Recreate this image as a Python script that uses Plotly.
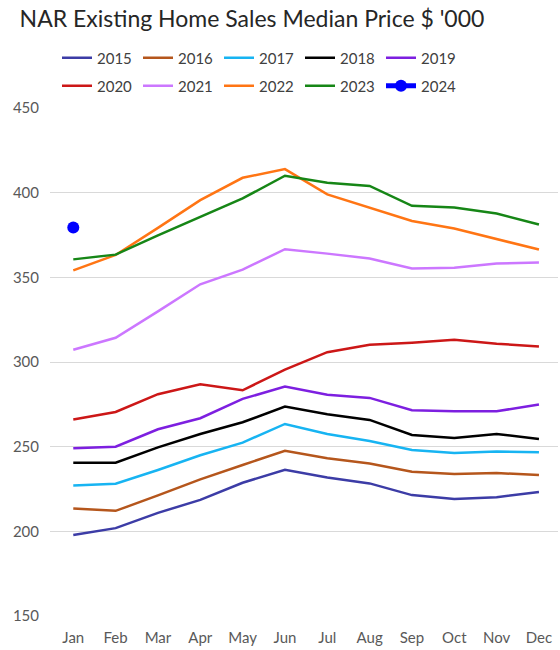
import plotly.graph_objects as go

months = ["Jan", "Feb", "Mar", "Apr", "May", "Jun", "Jul", "Aug", "Sep", "Oct", "Nov", "Dec"]

y2015 = [197.8, 201.9, 210.9, 218.6, 228.7, 236.4, 231.8, 228.3, 221.4, 219.1, 220.2, 223.2]
y2016 = [213.5, 212.1, 221.2, 230.7, 239.2, 247.6, 243.1, 240.1, 235.2, 233.8, 234.4, 233.3]
y2017 = [227.1, 228.1, 236.2, 244.9, 252.4, 263.4, 257.5, 253.4, 248.0, 246.3, 247.2, 246.7]
y2018 = [240.5, 240.5, 249.6, 257.5, 264.4, 273.7, 269.1, 265.8, 256.9, 255.1, 257.5, 254.5]
y2019 = [249.0, 250.0, 260.3, 266.8, 278.2, 285.5, 280.6, 278.8, 271.5, 270.9, 270.9, 274.9]
y2020 = [266.0, 270.5, 281.0, 286.9, 283.3, 295.5, 305.8, 310.2, 311.4, 313.1, 310.8, 309.2]
y2021 = [307.2, 314.3, 329.9, 345.9, 354.5, 366.6, 364.0, 361.1, 355.2, 355.7, 358.1, 358.7]
y2022 = [354.1, 363.2, 379.2, 395.6, 408.8, 413.9, 399.0, 391.2, 383.3, 378.8, 372.5, 366.4]
y2023 = [360.6, 363.4, 374.8, 385.7, 396.6, 410.0, 405.8, 404.0, 392.2, 391.2, 387.7, 381.2]
y2024 = [379.4]

series = [
    ("2015", y2015, "#3c3ca6", "legend"),
    ("2016", y2016, "#b5561c", "legend"),
    ("2017", y2017, "#17b4f2", "legend"),
    ("2018", y2018, "#000000", "legend"),
    ("2019", y2019, "#7d1fe0", "legend"),
    ("2020", y2020, "#cc1717", "legend2"),
    ("2021", y2021, "#cc77ff", "legend2"),
    ("2022", y2022, "#ff7514", "legend2"),
    ("2023", y2023, "#168616", "legend2"),
]

fig = go.Figure()
for name, ys, col, lg in series:
    fig.add_trace(go.Scatter(x=months[:len(ys)], y=ys, name=name, mode="lines",
                             line=dict(color=col, width=2.5), legend=lg))
fig.add_trace(go.Scatter(x=months[:len(y2024)], y=y2024, name="2024", mode="lines+markers",
                         line=dict(color="#0000ff", width=5),
                         marker=dict(color="#0000ff", size=12), legend="legend2"))

leg_common = dict(orientation="h", xref="container", yref="container",
                  xanchor="left", yanchor="middle",
                  entrywidth=36, font=dict(size=15, color="#404040"),
                  traceorder="normal", itemwidth=30, bgcolor="rgba(0,0,0,0)")

fig.update_layout(
    width=560, height=650,
    paper_bgcolor="white", plot_bgcolor="white",
    margin=dict(l=50, r=2, t=108, b=34, autoexpand=False),
    font=dict(family="Lato, Carlito, sans-serif", color="#404040"),
    title=dict(text="NAR Existing Home Sales Median Price $ '000",
               x=0.45, xanchor="center", y=1 - 19 / 650, yanchor="middle",
               font=dict(size=23, color="#262626")),
    legend=dict(leg_common, x=57 / 560, y=1 - 58 / 650),
    legend2=dict(leg_common, x=57 / 560, y=1 - 86 / 650),
    showlegend=True,
)
fig.update_xaxes(type="category", range=[-0.55, 11.45], showgrid=False, showline=False,
                 zeroline=False, ticks="", tickfont=dict(size=15, color="#595959"),
                 ticklabelstandoff=11)
fig.update_yaxes(range=[150, 450], dtick=50, showgrid=True, gridcolor="#d9d9d9", gridwidth=1,
                 zeroline=False, showline=False, ticks="",
                 tickfont=dict(size=15, color="#595959"), ticklabelstandoff=10)

fig.write_html("out.html")
